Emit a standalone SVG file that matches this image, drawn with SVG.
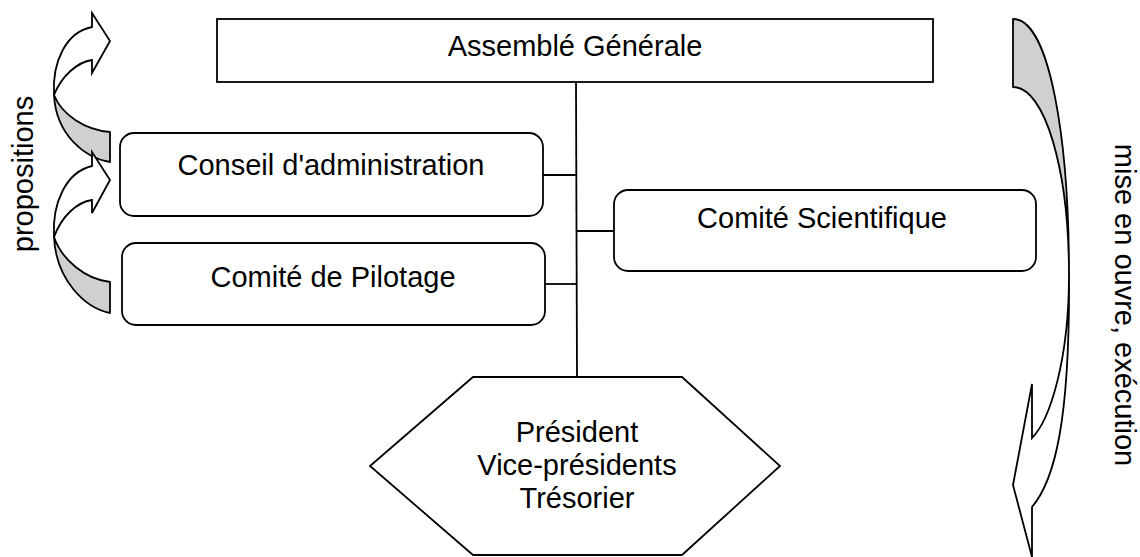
<svg xmlns="http://www.w3.org/2000/svg" width="1140" height="557" viewBox="0 0 1140 557">
<style>
.box{fill:#fff;stroke:#000;stroke-width:1.8}
.ln{stroke:#000;stroke-width:1.8;fill:none}
.t{font-family:"Liberation Sans",Arial,sans-serif;font-size:29px;fill:#000;text-anchor:middle}
.g{fill:#d0d0d0;stroke:#000;stroke-width:1.8;stroke-linejoin:round}
.w{fill:#fff;stroke:#000;stroke-width:1.8;stroke-linejoin:miter}
</style>
<rect width="1140" height="557" fill="#fff"/>
<g id="connectors">
<line class="ln" x1="576" y1="82" x2="577" y2="377"/>
<line class="ln" x1="543" y1="175" x2="576" y2="175"/>
<line class="ln" x1="545" y1="284" x2="577" y2="284"/>
<line class="ln" x1="576" y1="231" x2="614" y2="231"/>
</g>
<g id="assemblee">
<rect class="box" x="217" y="19" width="716" height="63"/>
<text class="t" x="575" y="56">Assemblé Générale</text>
</g>
<g id="conseil">
<rect class="box" x="120" y="133" width="423" height="83" rx="14"/>
<text class="t" x="331" y="175">Conseil d'administration</text>
</g>
<g id="pilotage">
<rect class="box" x="122" y="243" width="423" height="82" rx="14"/>
<text class="t" x="333" y="287">Comité de Pilotage</text>
</g>
<g id="scientifique">
<rect class="box" x="614" y="190" width="422" height="81" rx="14"/>
<text class="t" x="822" y="228">Comité Scientifique</text>
</g>
<g id="bureau">
<polygon class="box" points="473,377 682,377 780,466 682,555 473,555 370,466"/>
<text class="t" x="577" y="442">Président</text>
<text class="t" x="577" y="475">Vice-présidents</text>
<text class="t" x="577" y="508">Trésorier</text>
</g>
<g id="propositions-arrows">
<path class="g" d="M54,95 C56,135 85,158 110,162 L110,132 C85,130 62,115 54,95 Z"/>
<path class="w" d="M54,95 C52,62 66,32 92,27 L92,13 L110,41 L92,73 L92,60 C78,62 62,75 54,95 Z"/>
<path class="g" d="M54,237 C56,280 85,308 110,313 L110,282 C85,279 62,260 54,237 Z"/>
<path class="w" d="M54,237 C52,203 66,172 92,166 L92,152 L110,180 L92,213 L92,200 C78,202 62,215 54,237 Z"/>
<text class="t" transform="translate(33,174) rotate(-90)">propositions</text>
</g>
<g id="execution-arrow">
<path class="g" d="M1013,19 C1050,19 1069,140 1069,275 C1069,170 1045,87 1013,87 Z"/>
<path class="w" d="M1069,275 C1070,420 1055,480 1032,507 L1032,557 L1013,485 L1032,384 L1032,438 C1050,420 1069,360 1069,275 Z"/>
<text class="t" transform="translate(1115,305) rotate(90)">mise en ouvre, exécution</text>
</g>
</svg>
